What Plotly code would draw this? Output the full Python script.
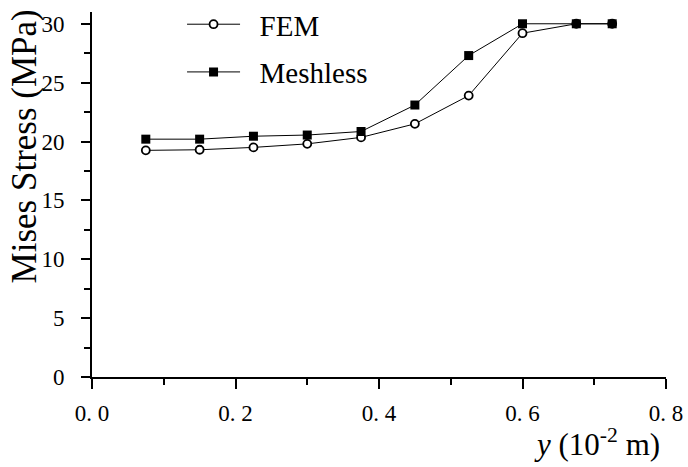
import plotly.graph_objects as go

# Data
y_pos = [0.075, 0.15, 0.225, 0.3, 0.375, 0.45, 0.525, 0.6, 0.675, 0.725]
fem_stress = [19.25, 19.3, 19.5, 19.8, 20.35, 21.5, 23.9, 29.2, 30.0, 30.0]
meshless_stress = [20.2, 20.2, 20.45, 20.55, 20.85, 23.1, 27.3, 30.0, 30.0, 30.0]

x_tickvals = [0.0, 0.2, 0.4, 0.6, 0.8]
x_ticktext = ["0. 0", "0. 2", "0. 4", "0. 6", "0. 8"]
x_minor = [0.1, 0.3, 0.5, 0.7]
y_tickvals = [0, 5, 10, 15, 20, 25, 30]
y_minor = [2.5, 7.5, 12.5, 17.5, 22.5, 27.5]

fig = go.Figure()
fig.add_trace(go.Scatter(
    x=y_pos, y=fem_stress, name="\u00a0\u00a0FEM", mode="lines+markers",
    line=dict(color="black", width=1),
    marker=dict(symbol="circle", size=8, color="white", line=dict(color="black", width=1.8)),
    legendgroup="a",
))
fig.add_trace(go.Scatter(
    x=y_pos, y=meshless_stress, name="\u00a0\u00a0Meshless", mode="lines+markers",
    line=dict(color="black", width=1),
    marker=dict(symbol="square", size=9, color="black", line=dict(color="black", width=0)),
    legendgroup="b",
))

axis_font = dict(family="Liberation Serif", size=23, color="black")

fig.update_xaxes(
    range=[0, 0.8], tickmode="array", tickvals=x_tickvals, ticktext=x_ticktext,
    showline=True, linecolor="black", linewidth=2, showgrid=False, zeroline=False,
    ticks="outside", ticklen=10, tickwidth=2, tickcolor="black",
    tickfont=axis_font, ticklabelstandoff=4, automargin=False,
    minor=dict(tickvals=x_minor, ticks="outside", ticklen=6, tickwidth=2, tickcolor="black", showgrid=False),
)
fig.update_yaxes(
    range=[0, 31], tickmode="array", tickvals=y_tickvals,
    showline=True, linecolor="black", linewidth=2, showgrid=False, zeroline=False,
    ticks="outside", ticklen=9, tickwidth=2, tickcolor="black",
    tickfont=axis_font, ticklabelstandoff=12, automargin=False,
    minor=dict(tickvals=y_minor, ticks="outside", ticklen=6, tickwidth=2, tickcolor="black", showgrid=False),
)

fig.add_annotation(
    text="Mises Stress (MPa)", textangle=-90, xref="paper", yref="paper",
    x=-0.117, y=(377.3 - 146.5) / 365.6, xanchor="center", yanchor="middle",
    showarrow=False, font=dict(family="Liberation Serif", size=35, color="black"),
)
fig.add_annotation(
    text="<i>y</i> (10<sup>-2</sup> m)", xref="paper", yref="paper",
    x=(597 - 92) / 573.7, y=-(443 - 377.3) / 365.6, xanchor="center", yanchor="middle",
    showarrow=False, font=dict(family="Liberation Serif", size=31, color="black"),
)

fig.update_layout(
    width=688, height=467,
    margin=dict(l=92, r=22, t=12, b=90, autoexpand=False),
    paper_bgcolor="white", plot_bgcolor="white",
    showlegend=True,
    legend=dict(
        x=(182 - 92) / 573.7, y=1.036, xanchor="left", yanchor="top",
        bgcolor="rgba(0,0,0,0)", borderwidth=0,
        font=dict(family="Liberation Serif", size=29, color="black"),
        itemwidth=53, tracegroupgap=7, traceorder="grouped",
    ),
)

fig.write_html(
    "out.html",
    config={"displayModeBar": False},
    post_script="document.body.style.margin='0';document.body.style.padding='0';",
)
